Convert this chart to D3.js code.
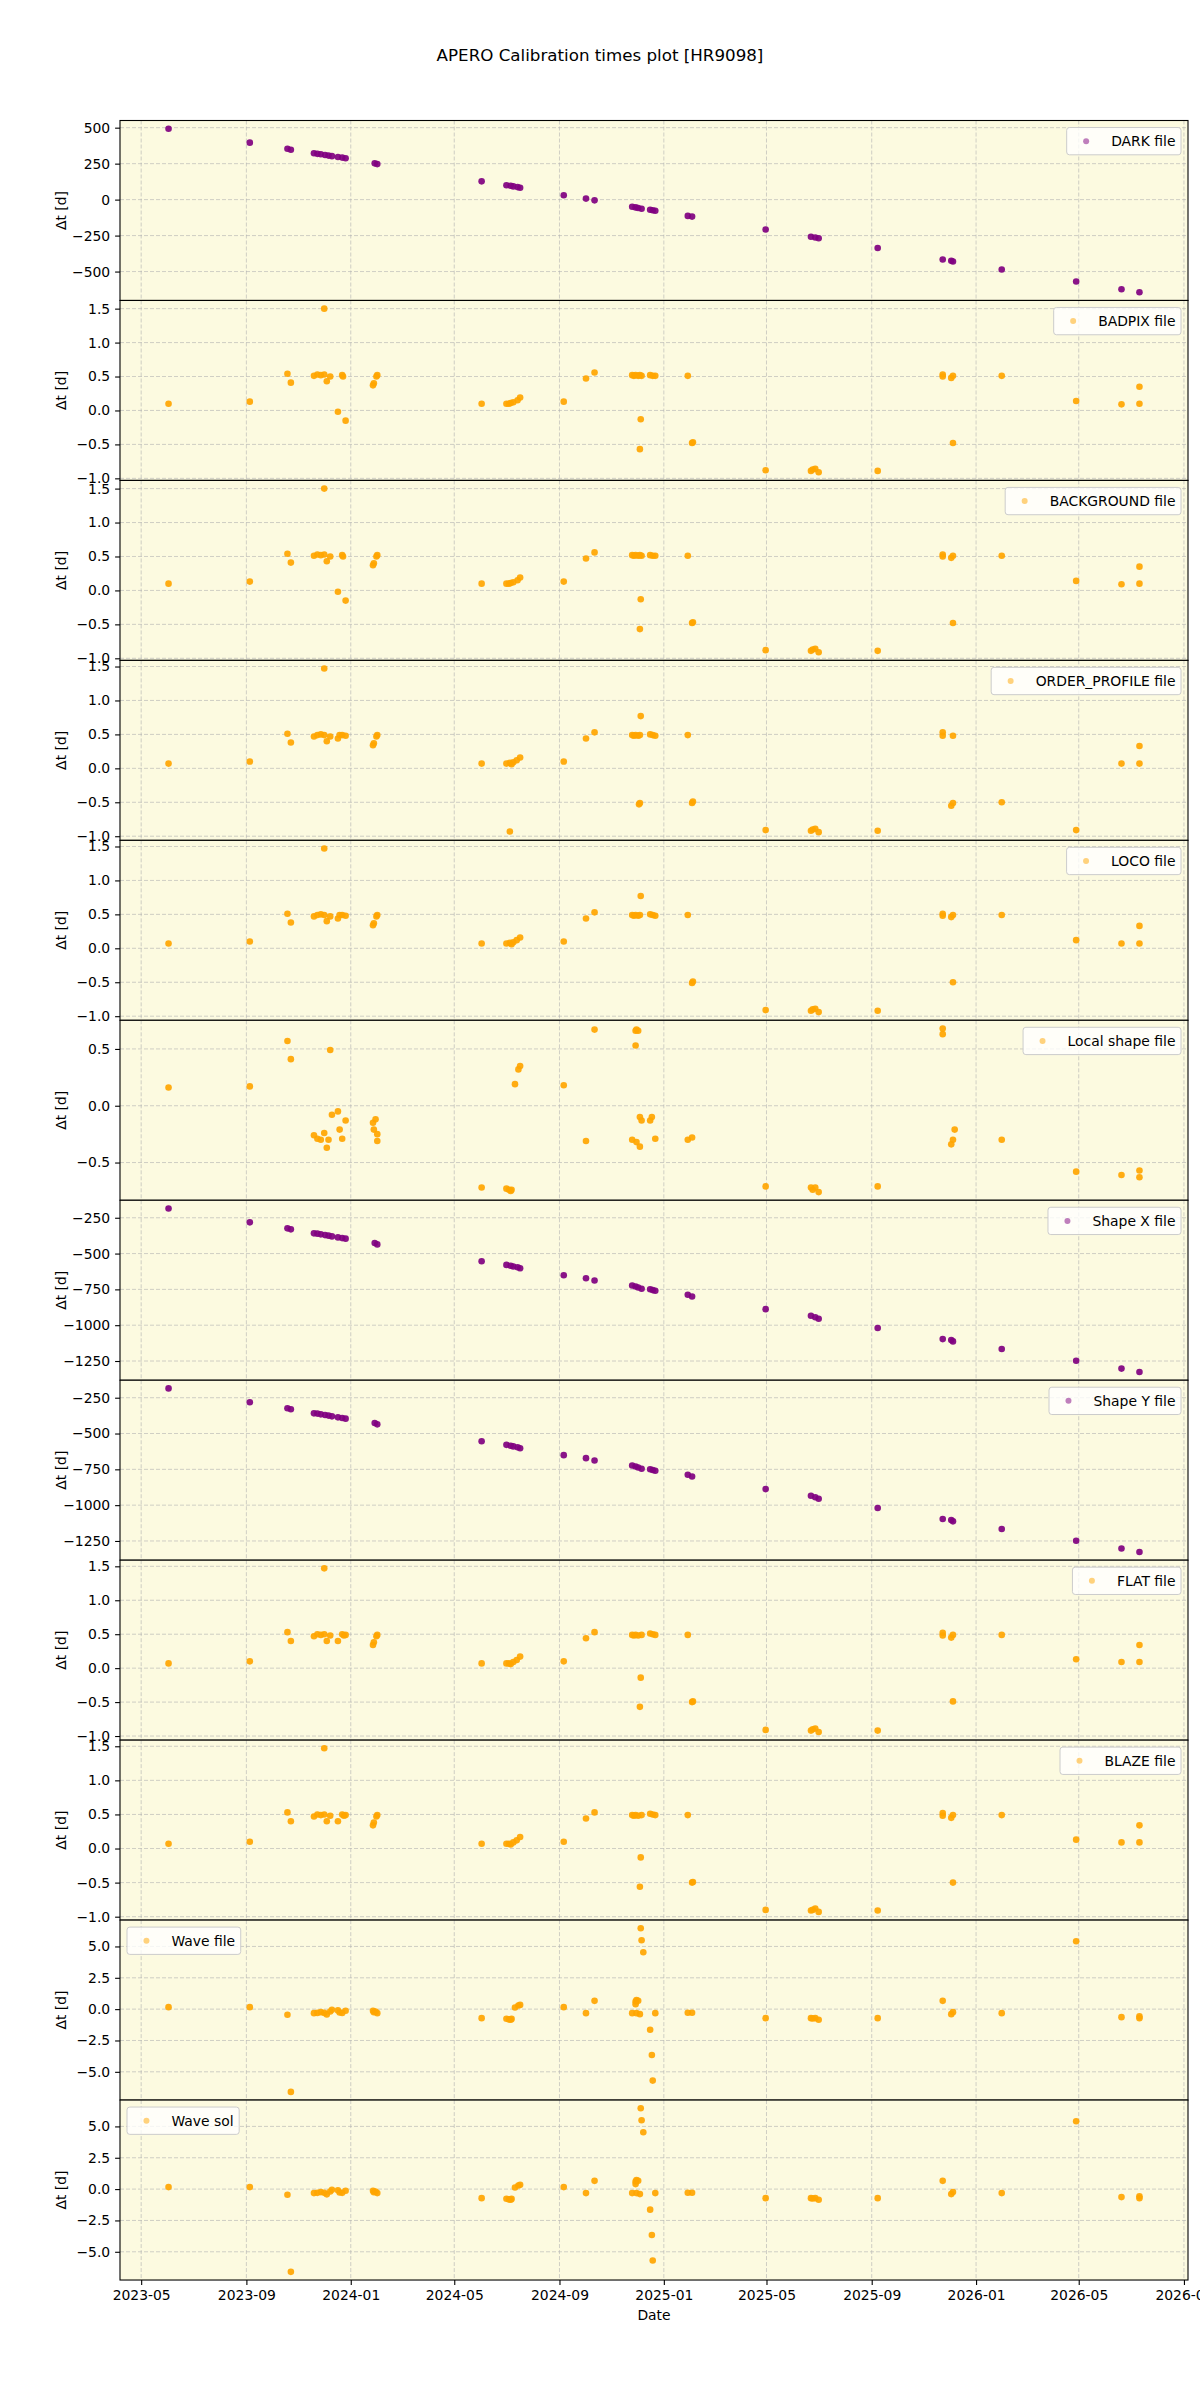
<html>
<head>
<meta charset="utf-8">
<script src="https://cdn.jsdelivr.net/npm/d3@7"></script>
<style>
body { margin: 0; background: #ffffff; }
text { font-family: "DejaVu Sans", sans-serif; }
</style>
</head>
<body>
<script>
// figure size and axes box
var w = 1200, h = 2400;
var axLeft = 120, axRight = 1188, axTop = 120.5, panelH = 179.96;
var fs = 13.9;

// ---- data: [date, dt in days] ----
var darkFile = [["2023-06-02",493],["2023-09-05",396],["2023-10-19",354],["2023-10-23",347],
  ["2023-11-19",322],["2023-11-23",318],["2023-11-27",315],["2023-12-02",310],["2023-12-06",306],
  ["2023-12-10",302],["2023-12-17",296],["2023-12-22",292],["2023-12-26",287],
  ["2024-01-29",252],["2024-02-01",247],["2024-06-02",127],
  ["2024-07-01",100],["2024-07-06",96],["2024-07-09",92],["2024-07-14",87],["2024-07-17",82],
  ["2024-09-06",30],["2024-10-02",7],["2024-10-12",-5],
  ["2024-11-25",-50],["2024-11-29",-54],["2024-12-02",-58],["2024-12-06",-63],
  ["2024-12-16",-70],["2024-12-19",-74],["2024-12-22",-77],["2025-01-29",-113],["2025-02-03",-118],
  ["2025-04-30",-208],["2025-06-22",-258],["2025-06-27",-263],["2025-07-01",-268],
  ["2025-09-08",-336],["2025-11-23",-416],["2025-12-03",-425],["2025-12-05",-430],
  ["2026-01-31",-486],["2026-04-28",-569],["2026-06-20",-623],["2026-07-11",-644]];

var badpixFile = [["2023-06-02",0.10],["2023-09-05",0.13],["2023-10-19",0.54],["2023-10-23",0.41],
  ["2023-11-19",0.51],["2023-11-23",0.53],["2023-11-27",0.52],["2023-12-01",1.50],["2023-12-01",0.53],
  ["2023-12-04",0.43],["2023-12-08",0.50],["2023-12-17",-0.02],["2023-12-22",0.52],["2023-12-23",0.50],
  ["2023-12-26",-0.15],["2024-01-27",0.37],["2024-01-28",0.40],["2024-01-31",0.50],["2024-02-01",0.52],
  ["2024-06-02",0.10],["2024-07-01",0.10],["2024-07-04",0.10],["2024-07-06",0.11],["2024-07-09",0.12],
  ["2024-07-14",0.15],["2024-07-17",0.19],["2024-09-06",0.13],["2024-10-02",0.47],["2024-10-12",0.56],
  ["2024-11-25",0.52],["2024-11-27",0.51],["2024-11-29",0.52],["2024-12-02",0.51],["2024-12-04",0.52],
  ["2024-12-06",0.51],["2024-12-05",-0.13],["2024-12-04",-0.57],["2024-12-16",0.52],["2024-12-19",0.51],
  ["2024-12-22",0.51],["2025-01-29",0.51],["2025-02-03",-0.48],["2025-02-04",-0.47],["2025-04-30",-0.88],
  ["2025-06-22",-0.89],["2025-06-24",-0.87],["2025-06-27",-0.86],["2025-07-01",-0.91],["2025-09-08",-0.89],
  ["2025-11-23",0.53],["2025-11-23",0.50],["2025-12-03",0.48],["2025-12-05",0.51],["2025-12-05",-0.48],
  ["2026-01-31",0.51],["2026-04-28",0.14],["2026-06-20",0.09],["2026-07-11",0.35],["2026-07-11",0.10]];

var backgroundFile = [["2023-06-02",0.10],["2023-09-05",0.13],["2023-10-19",0.54],["2023-10-23",0.41],
  ["2023-11-19",0.51],["2023-11-23",0.53],["2023-11-27",0.52],["2023-12-01",1.50],["2023-12-01",0.53],
  ["2023-12-04",0.43],["2023-12-08",0.50],["2023-12-17",-0.02],["2023-12-22",0.52],["2023-12-23",0.50],
  ["2023-12-26",-0.15],["2024-01-27",0.37],["2024-01-28",0.40],["2024-01-31",0.50],["2024-02-01",0.52],
  ["2024-06-02",0.10],["2024-07-01",0.10],["2024-07-04",0.10],["2024-07-06",0.11],["2024-07-09",0.12],
  ["2024-07-14",0.15],["2024-07-17",0.19],["2024-09-06",0.13],["2024-10-02",0.47],["2024-10-12",0.56],
  ["2024-11-25",0.52],["2024-11-27",0.51],["2024-11-29",0.52],["2024-12-02",0.51],["2024-12-04",0.52],
  ["2024-12-06",0.51],["2024-12-05",-0.13],["2024-12-04",-0.57],["2024-12-16",0.52],["2024-12-19",0.51],
  ["2024-12-22",0.51],["2025-01-29",0.51],["2025-02-03",-0.48],["2025-02-04",-0.47],["2025-04-30",-0.88],
  ["2025-06-22",-0.89],["2025-06-24",-0.87],["2025-06-27",-0.86],["2025-07-01",-0.91],["2025-09-08",-0.89],
  ["2025-11-23",0.53],["2025-11-23",0.50],["2025-12-03",0.48],["2025-12-05",0.51],["2025-12-05",-0.48],
  ["2026-01-31",0.51],["2026-04-28",0.14],["2026-06-20",0.09],["2026-07-11",0.35],["2026-07-11",0.10]];

var orderProfileFile = [["2023-06-02",0.07],["2023-09-05",0.10],["2023-10-19",0.51],["2023-10-23",0.38],
  ["2023-11-19",0.47],["2023-11-23",0.49],["2023-11-27",0.50],["2023-12-01",1.47],["2023-12-01",0.49],
  ["2023-12-04",0.40],["2023-12-08",0.47],["2023-12-17",0.44],["2023-12-19",0.49],["2023-12-22",0.49],
  ["2023-12-26",0.48],["2024-01-27",0.34],["2024-01-28",0.37],["2024-01-31",0.47],["2024-02-01",0.49],
  ["2024-06-02",0.07],["2024-07-01",0.07],["2024-07-05",-0.93],["2024-07-05",0.08],["2024-07-07",0.06],
  ["2024-07-09",0.09],["2024-07-13",0.12],["2024-07-17",0.16],["2024-09-06",0.10],["2024-10-02",0.44],
  ["2024-10-12",0.53],["2024-11-25",0.49],["2024-11-27",0.48],["2024-11-29",0.49],["2024-12-02",0.48],
  ["2024-12-04",0.49],["2024-12-05",0.77],["2024-12-03",-0.53],["2024-12-04",-0.51],["2024-12-16",0.50],
  ["2024-12-19",0.49],["2024-12-22",0.48],["2025-01-29",0.49],["2025-02-03",-0.51],["2025-02-04",-0.49],
  ["2025-04-30",-0.91],["2025-06-22",-0.92],["2025-06-24",-0.90],["2025-06-27",-0.89],["2025-07-01",-0.94],
  ["2025-09-08",-0.92],["2025-11-23",0.53],["2025-11-23",0.48],["2025-12-03",-0.55],["2025-12-05",-0.51],
  ["2025-12-05",0.48],["2026-01-31",-0.50],["2026-04-28",-0.91],["2026-06-20",0.07],
  ["2026-07-11",0.33],["2026-07-11",0.07]];

var locoFile = [["2023-06-02",0.07],["2023-09-05",0.10],["2023-10-19",0.51],["2023-10-23",0.38],
  ["2023-11-19",0.47],["2023-11-23",0.49],["2023-11-27",0.50],["2023-12-01",1.47],["2023-12-01",0.49],
  ["2023-12-04",0.40],["2023-12-08",0.47],["2023-12-17",0.44],["2023-12-19",0.49],["2023-12-22",0.49],
  ["2023-12-26",0.48],["2024-01-27",0.34],["2024-01-28",0.37],["2024-01-31",0.47],["2024-02-01",0.49],
  ["2024-06-02",0.07],["2024-07-01",0.07],["2024-07-05",0.08],["2024-07-07",0.06],
  ["2024-07-09",0.09],["2024-07-13",0.12],["2024-07-17",0.16],["2024-09-06",0.10],["2024-10-02",0.44],
  ["2024-10-12",0.53],["2024-11-25",0.49],["2024-11-27",0.48],["2024-11-29",0.49],["2024-12-02",0.48],
  ["2024-12-04",0.49],["2024-12-05",0.77],["2024-12-16",0.50],
  ["2024-12-19",0.49],["2024-12-22",0.48],["2025-01-29",0.49],["2025-02-03",-0.51],["2025-02-04",-0.49],
  ["2025-04-30",-0.91],["2025-06-22",-0.92],["2025-06-24",-0.90],["2025-06-27",-0.89],["2025-07-01",-0.94],
  ["2025-09-08",-0.92],["2025-11-23",0.51],["2025-11-23",0.48],["2025-12-03",0.46],["2025-12-05",0.49],
  ["2025-12-05",-0.50],["2026-01-31",0.49],["2026-04-28",0.12],["2026-06-20",0.07],
  ["2026-07-11",0.33],["2026-07-11",0.07]];

var localShapeFile = [["2023-06-02",0.16],["2023-09-05",0.17],["2023-10-19",0.57],["2023-10-23",0.41],
  ["2023-12-08",0.49],["2023-11-19",-0.26],["2023-11-23",-0.29],["2023-11-27",-0.30],["2023-12-01",-0.24],
  ["2023-12-04",-0.37],["2023-12-06",-0.30],["2023-12-10",-0.08],["2023-12-17",-0.05],["2023-12-19",-0.21],
  ["2023-12-22",-0.29],["2023-12-26",-0.13],["2024-01-27",-0.15],["2024-01-28",-0.21],["2024-01-30",-0.12],
  ["2024-02-01",-0.25],["2024-02-01",-0.31],["2024-06-02",-0.72],["2024-07-01",-0.73],["2024-07-04",-0.74],
  ["2024-07-06",-0.75],["2024-07-07",-0.74],["2024-07-11",0.19],["2024-07-15",0.32],["2024-07-17",0.35],
  ["2024-09-06",0.18],["2024-10-02",-0.31],["2024-10-12",0.67],["2024-11-25",-0.30],["2024-11-29",0.66],
  ["2024-11-30",0.67],["2024-12-02",0.66],["2024-11-29",0.53],["2024-11-30",-0.32],["2024-12-04",-0.36],
  ["2024-12-04",-0.10],["2024-12-06",-0.13],["2024-12-16",-0.13],["2024-12-18",-0.10],["2024-12-22",-0.29],
  ["2025-01-29",-0.30],["2025-02-03",-0.28],["2025-04-30",-0.71],["2025-06-22",-0.72],["2025-06-24",-0.74],
  ["2025-06-27",-0.72],["2025-07-01",-0.76],["2025-09-08",-0.71],["2025-11-23",0.68],["2025-11-23",0.63],
  ["2025-12-03",-0.34],["2025-12-05",-0.30],["2025-12-07",-0.21],["2026-01-31",-0.30],["2026-04-28",-0.58],
  ["2026-06-20",-0.61],["2026-07-11",-0.57],["2026-07-11",-0.63]];

var shapeXFile = [["2023-06-02",-185],["2023-09-05",-282],["2023-10-19",-324],["2023-10-23",-331],
  ["2023-11-19",-359],["2023-11-23",-361],["2023-11-27",-366],["2023-12-02",-371],["2023-12-06",-375],
  ["2023-12-10",-380],["2023-12-17",-387],["2023-12-22",-392],["2023-12-26",-396],
  ["2024-01-29",-426],["2024-02-01",-436],["2024-06-02",-554],
  ["2024-07-01",-579],["2024-07-06",-585],["2024-07-09",-590],["2024-07-14",-596],["2024-07-17",-603],
  ["2024-09-06",-651],["2024-10-02",-672],["2024-10-12",-688],
  ["2024-11-25",-723],["2024-11-29",-730],["2024-12-02",-737],["2024-12-06",-746],
  ["2024-12-16",-749],["2024-12-19",-755],["2024-12-22",-760],["2025-01-29",-788],["2025-02-03",-800],
  ["2025-04-30",-888],["2025-06-22",-934],["2025-06-27",-945],["2025-07-01",-955],
  ["2025-09-08",-1020],["2025-11-23",-1097],["2025-12-03",-1104],["2025-12-05",-1113],
  ["2026-01-31",-1166],["2026-04-28",-1248],["2026-06-20",-1303],["2026-07-11",-1327]];

var shapeYFile = [["2023-06-02",-185],["2023-09-05",-282],["2023-10-19",-324],["2023-10-23",-331],
  ["2023-11-19",-359],["2023-11-23",-361],["2023-11-27",-366],["2023-12-02",-371],["2023-12-06",-375],
  ["2023-12-10",-380],["2023-12-17",-387],["2023-12-22",-392],["2023-12-26",-396],
  ["2024-01-29",-426],["2024-02-01",-436],["2024-06-02",-554],
  ["2024-07-01",-579],["2024-07-06",-585],["2024-07-09",-590],["2024-07-14",-596],["2024-07-17",-603],
  ["2024-09-06",-651],["2024-10-02",-672],["2024-10-12",-688],
  ["2024-11-25",-723],["2024-11-29",-730],["2024-12-02",-737],["2024-12-06",-746],
  ["2024-12-16",-749],["2024-12-19",-755],["2024-12-22",-760],["2025-01-29",-788],["2025-02-03",-800],
  ["2025-04-30",-888],["2025-06-22",-934],["2025-06-27",-945],["2025-07-01",-955],
  ["2025-09-08",-1020],["2025-11-23",-1097],["2025-12-03",-1104],["2025-12-05",-1113],
  ["2026-01-31",-1166],["2026-04-28",-1248],["2026-06-20",-1303],["2026-07-11",-1327]];

var flatFile = [["2023-06-02",0.07],["2023-09-05",0.10],["2023-10-19",0.53],["2023-10-23",0.40],
  ["2023-11-19",0.47],["2023-11-23",0.50],["2023-11-27",0.49],["2023-12-01",1.47],["2023-12-01",0.50],
  ["2023-12-04",0.40],["2023-12-08",0.48],["2023-12-17",0.40],["2023-12-22",0.50],["2023-12-24",0.48],
  ["2023-12-26",0.49],["2024-01-27",0.34],["2024-01-28",0.38],["2024-01-31",0.47],["2024-02-01",0.49],
  ["2024-06-02",0.07],["2024-07-01",0.07],["2024-07-04",0.07],["2024-07-06",0.06],["2024-07-09",0.09],
  ["2024-07-13",0.12],["2024-07-17",0.17],["2024-09-06",0.10],["2024-10-02",0.44],["2024-10-12",0.53],
  ["2024-11-25",0.49],["2024-11-27",0.48],["2024-11-29",0.49],["2024-12-02",0.48],["2024-12-06",0.49],
  ["2024-12-05",-0.14],["2024-12-04",-0.57],["2024-12-16",0.51],["2024-12-19",0.50],["2024-12-22",0.49],
  ["2025-01-29",0.49],["2025-02-03",-0.50],["2025-02-04",-0.49],["2025-04-30",-0.91],["2025-06-22",-0.92],
  ["2025-06-24",-0.90],["2025-06-27",-0.89],["2025-07-01",-0.94],["2025-09-08",-0.92],["2025-11-23",0.52],
  ["2025-11-23",0.48],["2025-12-03",0.45],["2025-12-05",0.49],["2025-12-05",-0.49],["2026-01-31",0.49],
  ["2026-04-28",0.13],["2026-06-20",0.09],["2026-07-11",0.34],["2026-07-11",0.09]];

var blazeFile = [["2023-06-02",0.07],["2023-09-05",0.10],["2023-10-19",0.53],["2023-10-23",0.40],
  ["2023-11-19",0.47],["2023-11-23",0.50],["2023-11-27",0.49],["2023-12-01",1.47],["2023-12-01",0.50],
  ["2023-12-04",0.40],["2023-12-08",0.48],["2023-12-17",0.40],["2023-12-22",0.50],["2023-12-24",0.48],
  ["2023-12-26",0.49],["2024-01-27",0.34],["2024-01-28",0.38],["2024-01-31",0.47],["2024-02-01",0.49],
  ["2024-06-02",0.07],["2024-07-01",0.07],["2024-07-04",0.07],["2024-07-06",0.06],["2024-07-09",0.09],
  ["2024-07-13",0.12],["2024-07-17",0.17],["2024-09-06",0.10],["2024-10-02",0.44],["2024-10-12",0.53],
  ["2024-11-25",0.49],["2024-11-27",0.48],["2024-11-29",0.49],["2024-12-02",0.48],["2024-12-06",0.49],
  ["2024-12-05",-0.13],["2024-12-04",-0.56],["2024-12-16",0.51],["2024-12-19",0.50],["2024-12-22",0.49],
  ["2025-01-29",0.49],["2025-02-03",-0.50],["2025-02-04",-0.49],["2025-04-30",-0.90],["2025-06-22",-0.91],
  ["2025-06-24",-0.90],["2025-06-27",-0.88],["2025-07-01",-0.93],["2025-09-08",-0.91],["2025-11-23",0.52],
  ["2025-11-23",0.48],["2025-12-03",0.45],["2025-12-05",0.49],["2025-12-05",-0.50],["2026-01-31",0.49],
  ["2026-04-28",0.13],["2026-06-20",0.09],["2026-07-11",0.34],["2026-07-11",0.09]];

var waveFile = [["2023-06-02",0.16],["2023-09-05",0.16],["2023-10-19",-0.45],["2023-10-23",-6.6],
  ["2023-11-19",-0.32],["2023-11-23",-0.30],["2023-11-27",-0.24],["2023-12-01",-0.30],["2023-12-04",-0.42],
  ["2023-12-08",-0.19],["2023-12-10",-0.05],["2023-12-17",-0.10],["2023-12-19",-0.27],["2023-12-22",-0.30],
  ["2023-12-26",-0.13],["2024-01-27",-0.13],["2024-01-28",-0.25],["2024-01-30",-0.20],["2024-02-01",-0.32],
  ["2024-06-02",-0.72],["2024-07-01",-0.77],["2024-07-04",-0.82],["2024-07-06",-0.85],["2024-07-07",-0.78],
  ["2024-07-11",0.13],["2024-07-15",0.29],["2024-07-17",0.34],["2024-09-06",0.16],["2024-10-02",-0.32],
  ["2024-10-12",0.66],["2024-11-25",-0.32],["2024-11-29",0.61],["2024-11-30",0.72],["2024-12-02",0.66],
  ["2024-11-29",0.40],["2024-11-30",-0.32],["2024-12-04",-0.40],["2024-12-05",6.45],["2024-12-06",5.49],
  ["2024-12-08",4.54],["2024-12-16",-1.64],["2024-12-18",-3.66],["2024-12-19",-5.70],["2024-12-22",-0.32],
  ["2025-01-29",-0.29],["2025-02-03",-0.29],["2025-04-30",-0.72],["2025-06-22",-0.72],["2025-06-24",-0.75],
  ["2025-06-27",-0.72],["2025-07-01",-0.85],["2025-09-08",-0.72],["2025-11-23",0.66],["2025-12-03",-0.40],
  ["2025-12-05",-0.24],["2026-01-31",-0.32],["2026-04-28",5.41],["2026-06-20",-0.64],
  ["2026-07-11",-0.58],["2026-07-11",-0.72]];

var waveSol = [["2023-06-02",0.16],["2023-09-05",0.16],["2023-10-19",-0.45],["2023-10-23",-6.6],
  ["2023-11-19",-0.32],["2023-11-23",-0.30],["2023-11-27",-0.24],["2023-12-01",-0.30],["2023-12-04",-0.42],
  ["2023-12-08",-0.19],["2023-12-10",-0.05],["2023-12-17",-0.10],["2023-12-19",-0.27],["2023-12-22",-0.30],
  ["2023-12-26",-0.13],["2024-01-27",-0.13],["2024-01-28",-0.25],["2024-01-30",-0.20],["2024-02-01",-0.32],
  ["2024-06-02",-0.72],["2024-07-01",-0.77],["2024-07-04",-0.82],["2024-07-06",-0.85],["2024-07-07",-0.78],
  ["2024-07-11",0.13],["2024-07-15",0.29],["2024-07-17",0.34],["2024-09-06",0.16],["2024-10-02",-0.32],
  ["2024-10-12",0.66],["2024-11-25",-0.32],["2024-11-29",0.61],["2024-11-30",0.72],["2024-12-02",0.66],
  ["2024-11-29",0.40],["2024-11-30",-0.32],["2024-12-04",-0.40],["2024-12-05",6.45],["2024-12-06",5.49],
  ["2024-12-08",4.54],["2024-12-16",-1.64],["2024-12-18",-3.66],["2024-12-19",-5.70],["2024-12-22",-0.32],
  ["2025-01-29",-0.29],["2025-02-03",-0.29],["2025-04-30",-0.72],["2025-06-22",-0.72],["2025-06-24",-0.75],
  ["2025-06-27",-0.72],["2025-07-01",-0.85],["2025-09-08",-0.72],["2025-11-23",0.66],["2025-12-03",-0.40],
  ["2025-12-05",-0.24],["2026-01-31",-0.32],["2026-04-28",5.41],["2026-06-20",-0.64],
  ["2026-07-11",-0.58],["2026-07-11",-0.72]];

// tick values
var dayTicks = [500, 250, 0, -250, -500];
var halfTicks = [1.5, 1.0, 0.5, 0.0, -0.5, -1.0];
var localTicks = [0.5, 0.0, -0.5];
var shapeTicks = [-250, -500, -750, -1000, -1250];
var waveTicks = [5.0, 2.5, 0.0, -2.5, -5.0];
var dateTicks = ["2023-05-01","2023-09-01","2024-01-01","2024-05-01","2024-09-01","2025-01-01",
  "2025-05-01","2025-09-01","2026-01-01","2026-05-01","2026-09-01"];

var panels = [
  {label: "DARK file", data: darkFile, color: "purple", ticks: dayTicks, fmt: "d", legend: "right"},
  {label: "BADPIX file", data: badpixFile, color: "orange", ticks: halfTicks, fmt: ".1f", legend: "right"},
  {label: "BACKGROUND file", data: backgroundFile, color: "orange", ticks: halfTicks, fmt: ".1f", legend: "right"},
  {label: "ORDER_PROFILE file", data: orderProfileFile, color: "orange", ticks: halfTicks, fmt: ".1f", legend: "right"},
  {label: "LOCO file", data: locoFile, color: "orange", ticks: halfTicks, fmt: ".1f", legend: "right"},
  {label: "Local shape file", data: localShapeFile, color: "orange", ticks: localTicks, fmt: ".1f", legend: "right"},
  {label: "Shape X file", data: shapeXFile, color: "purple", ticks: shapeTicks, fmt: "d", legend: "right"},
  {label: "Shape Y file", data: shapeYFile, color: "purple", ticks: shapeTicks, fmt: "d", legend: "right"},
  {label: "FLAT file", data: flatFile, color: "orange", ticks: halfTicks, fmt: ".1f", legend: "right"},
  {label: "BLAZE file", data: blazeFile, color: "orange", ticks: halfTicks, fmt: ".1f", legend: "right"},
  {label: "Wave file", data: waveFile, color: "orange", ticks: waveTicks, fmt: ".1f", legend: "left"},
  {label: "Wave sol", data: waveSol, color: "orange", ticks: waveTicks, fmt: ".1f", legend: "left"}
];

var parseDate = d3.utcParse("%Y-%m-%d");

var svg = d3.select("body").append("svg")
  .attr("width", w)
  .attr("height", h);

svg.append("text")
  .text("APERO Calibration times plot [HR9098]")
  .attr("x", w/2)
  .attr("y", 61)
  .attr("text-anchor", "middle")
  .attr("font-size", 16.7);

// shared x scale with 5% margins like matplotlib
var allDates = [];
panels.forEach(function(p) { p.data.forEach(function(d) { allDates.push(parseDate(d[0])); }); });
var xExt = d3.extent(allDates);
var xPad = (xExt[1] - xExt[0]) * 0.05;
var x = d3.scaleUtc()
  .domain([new Date(+xExt[0] - xPad), new Date(+xExt[1] + xPad)])
  .range([axLeft, axRight]);
var xTickDates = dateTicks.map(parseDate);

panels.forEach(function(p, i) {
  var top = axTop + i * panelH;
  var bottom = top + panelH;
  var yExt = d3.extent(p.data, function(d) { return d[1]; });
  var yPad = (yExt[1] - yExt[0]) * 0.05;
  var y = d3.scaleLinear()
    .domain([yExt[0] - yPad, yExt[1] + yPad])
    .range([bottom, top]);

  var g = svg.append("g");

  g.append("rect")
    .attr("x", axLeft).attr("y", top)
    .attr("width", axRight - axLeft).attr("height", panelH)
    .attr("fill", "#fcfae0");

  // grid
  g.selectAll(".vgrid").data(xTickDates).enter().append("line")
    .attr("x1", function(d) { return x(d); }).attr("x2", function(d) { return x(d); })
    .attr("y1", top).attr("y2", bottom)
    .attr("stroke", "#b0b0b0").attr("stroke-opacity", 0.6)
    .attr("stroke-width", 1).attr("stroke-dasharray", "4,2");
  g.selectAll(".hgrid").data(p.ticks).enter().append("line")
    .attr("x1", axLeft).attr("x2", axRight)
    .attr("y1", function(d) { return y(d); }).attr("y2", function(d) { return y(d); })
    .attr("stroke", "#b0b0b0").attr("stroke-opacity", 0.6)
    .attr("stroke-width", 1).attr("stroke-dasharray", "4,2");

  // points
  g.selectAll("circle.pt").data(p.data).enter().append("circle")
    .attr("class", "pt")
    .attr("cx", function(d) { return x(parseDate(d[0])); })
    .attr("cy", function(d) { return y(d[1]); })
    .attr("r", 3.3)
    .attr("fill", p.color)
    .attr("fill-opacity", 0.92);

  // y axis
  var yAxis = g.append("g")
    .attr("transform", "translate(" + axLeft + ",0)")
    .call(d3.axisLeft(y).tickValues(p.ticks).tickFormat(d3.format(p.fmt)).tickSize(4.9).tickPadding(4.9));
  yAxis.select(".domain").remove();
  yAxis.selectAll("text").attr("font-size", fs).attr("font-family", "DejaVu Sans").attr("fill", "black");
  yAxis.selectAll("line").attr("stroke", "black").attr("stroke-width", 1.1);

  g.append("text")
    .text("\u0394t [d]")
    .attr("transform", "translate(61," + (top + panelH/2) + ") rotate(-90)")
    .attr("text-anchor", "middle")
    .attr("dy", "0.35em")
    .attr("font-size", fs);

  // frame
  g.append("rect")
    .attr("x", axLeft).attr("y", top)
    .attr("width", axRight - axLeft).attr("height", panelH)
    .attr("fill", "none")
    .attr("stroke", "black")
    .attr("stroke-width", 1.1);

  // legend
  var leg = g.append("g");
  var legBox = leg.append("rect");
  var legText = leg.append("text")
    .text(p.label)
    .attr("font-size", fs)
    .attr("dy", "0.35em");
  var tw = legText.node().getComputedTextLength();
  var bw = 5.56 + 27.8 + 11.1 + tw + 5.56;
  var bh = 27.3;
  var bx = p.legend == "right" ? axRight - 7 - bw : axLeft + 7;
  var by = top + 7;
  legBox.attr("x", bx).attr("y", by).attr("width", bw).attr("height", bh)
    .attr("rx", 2.8)
    .attr("fill", "white").attr("fill-opacity", 0.8)
    .attr("stroke", "#cccccc").attr("stroke-width", 1);
  legText.attr("x", bx + 5.56 + 27.8 + 11.1).attr("y", by + bh/2);
  leg.append("circle")
    .attr("cx", bx + 5.56 + 13.9).attr("cy", by + bh/2)
    .attr("r", 3.0)
    .attr("fill", p.color).attr("fill-opacity", 0.5);

  // bottom x axis on the last panel only
  if (i == panels.length - 1) {
    var xAxis = g.append("g")
      .attr("transform", "translate(0," + bottom + ")")
      .call(d3.axisBottom(x).tickValues(xTickDates).tickFormat(d3.utcFormat("%Y-%m")).tickSize(4.9).tickPadding(4.9));
    xAxis.select(".domain").remove();
    xAxis.selectAll("text").attr("font-size", fs).attr("font-family", "DejaVu Sans").attr("fill", "black");
    xAxis.selectAll("line").attr("stroke", "black").attr("stroke-width", 1.1);
    g.append("text")
      .text("Date")
      .attr("x", (axLeft + axRight)/2)
      .attr("y", bottom + 40)
      .attr("text-anchor", "middle")
      .attr("font-size", fs);
  }
});
</script>
</body>
</html>
